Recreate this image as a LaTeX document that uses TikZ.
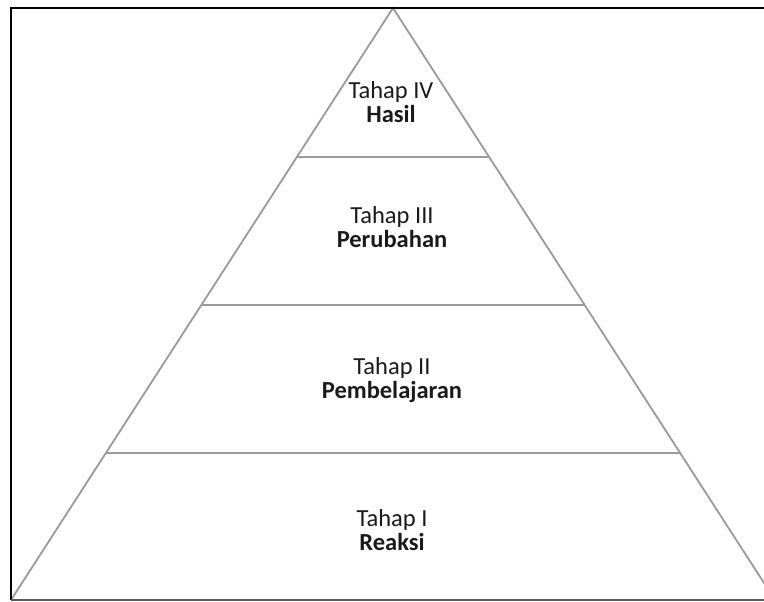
\documentclass[tikz,border=0pt]{standalone}
\usepackage{fontspec}
\setmainfont{Carlito}
\usetikzlibrary{calc}
\definecolor{edgegray}{HTML}{9A9A9A}
\definecolor{txt}{HTML}{1A1A1A}
\begin{document}
\begin{tikzpicture}[x=1pt,y=1pt,
  tier/.style={draw=edgegray, line width=1.8pt},
  label/.style={align=center, text=txt, font=\fontsize{24.5}{24.5}\selectfont, inner sep=0pt}]
\useasboundingbox (0,0) rectangle (764,602);
\begin{scope}
\clip (0,0) rectangle (764,602);
\coordinate (apex) at (393,594);
\coordinate (bl) at (11,2);
\coordinate (br) at (775,2);
\coordinate (l1) at ($(apex)!0.2517!(bl)$);
\coordinate (r1) at ($(apex)!0.2517!(br)$);
\coordinate (l2) at ($(apex)!0.5017!(bl)$);
\coordinate (r2) at ($(apex)!0.5017!(br)$);
\coordinate (l3) at ($(apex)!0.7517!(bl)$);
\coordinate (r3) at ($(apex)!0.7517!(br)$);
\draw[tier] (bl) -- (apex) -- (br);
\draw[tier] (l1) -- (r1);
\draw[tier] (l2) -- (r2);
\draw[tier] (l3) -- (r3);
\coordinate (fl) at (10.5,2);
\coordinate (ft) at (10.5,593.5);
\coordinate (fr) at (764,593.5);
\coordinate (fbr) at (764,2);
\draw[black, line width=2pt] (fl) -- (ft) -- (fr);
\draw[black!65, line width=1.5pt] (fl) -- (fbr);
\end{scope}
\node[label] (t4) at (391,500) {Tahap IV\\\textbf{Hasil}};
\node[label] (t3) at (392,375) {Tahap III\\\textbf{Perubahan}};
\node[label] (t2) at (392,222) {Tahap II\\\textbf{Pembelajaran}};
\node[label] (t1) at (392,72) {Tahap I\\\textbf{Reaksi}};
\end{tikzpicture}
\end{document}
